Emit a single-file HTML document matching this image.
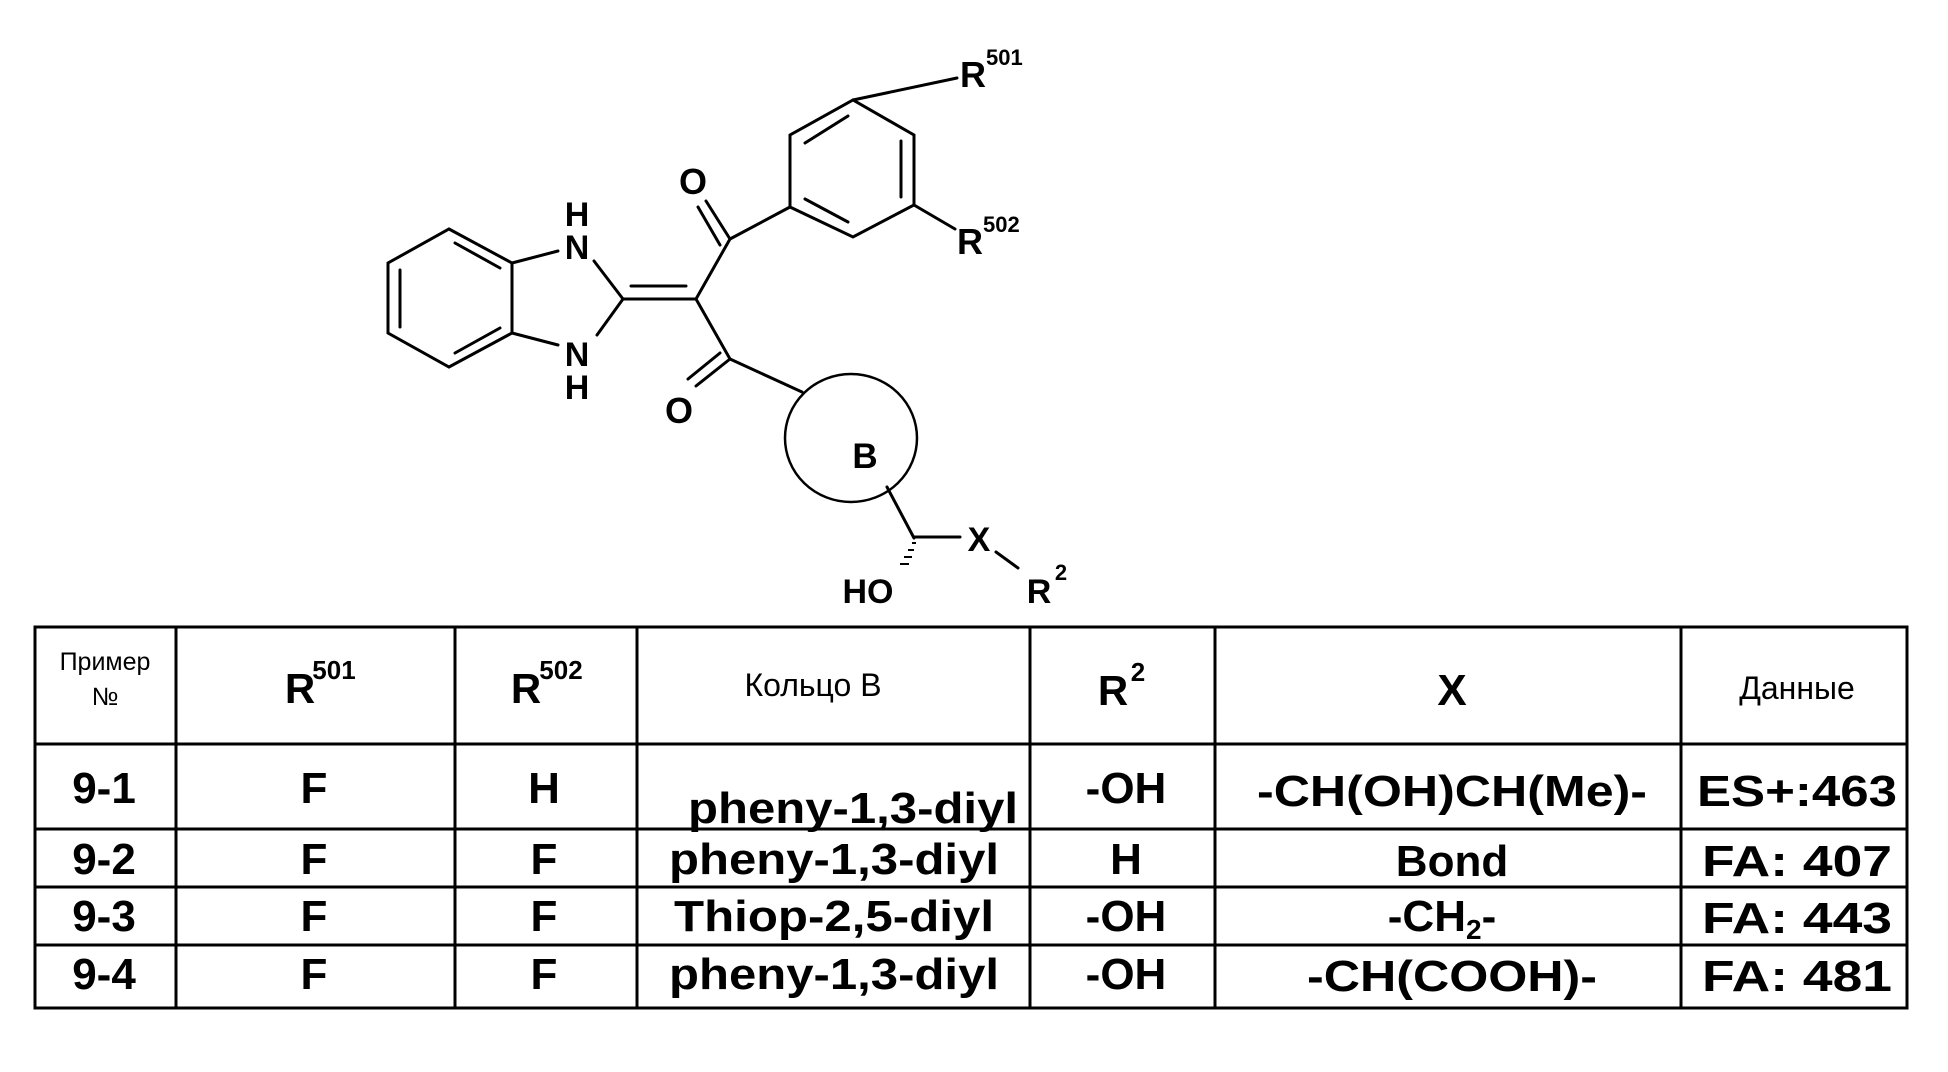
<!DOCTYPE html>
<html><head><meta charset="utf-8"><style>
html,body{margin:0;padding:0;background:#fff;}
svg{display:block;}
text{font-family:"Liberation Sans",Arial,sans-serif;fill:#000;}
.b{font-weight:bold;}
</style></head><body>
<svg width="1948" height="1072" viewBox="0 0 1948 1072" xmlns="http://www.w3.org/2000/svg">
<g stroke="#000" stroke-width="3" fill="none" stroke-linecap="round">
<polygon points="449,229 512,263 512,333 449,367 388,333 388,263"/>
<line x1="455" y1="243" x2="500" y2="268"/>
<line x1="400" y1="270" x2="400" y2="327"/>
<line x1="455" y1="353" x2="500" y2="328"/>
<line x1="512" y1="263" x2="558" y2="251"/>
<line x1="512" y1="333" x2="558" y2="345"/>
<line x1="594" y1="261" x2="623" y2="299"/>
<line x1="597" y1="335" x2="623" y2="299"/>
<line x1="623" y1="299" x2="696" y2="299"/>
<line x1="631" y1="286" x2="686" y2="286"/>
<line x1="696" y1="299" x2="730" y2="239"/>
<line x1="730" y1="239" x2="706" y2="201"/>
<line x1="720" y1="245" x2="698" y2="207"/>
<line x1="730" y1="239" x2="790" y2="207"/>
<polygon points="790,207 790,135 853,100 914,135 914,205 853,237"/>
<line x1="805" y1="143" x2="848" y2="116"/>
<line x1="901" y1="141" x2="901" y2="197"/>
<line x1="805" y1="199" x2="848" y2="222"/>
<line x1="853" y1="100" x2="957" y2="78"/>
<line x1="914" y1="205" x2="955" y2="229"/>
<line x1="696" y1="299" x2="730" y2="359"/>
<line x1="730" y1="359" x2="696" y2="386"/>
<line x1="720" y1="353" x2="688" y2="379"/>
<line x1="730" y1="359" x2="802" y2="392"/>
<ellipse cx="851" cy="438" rx="66" ry="64" stroke-width="2.5"/>
<line x1="887" y1="487" x2="914" y2="538"/>
<line x1="914" y1="537" x2="960" y2="537"/>
<line x1="996" y1="552" x2="1018" y2="568"/>
</g>
<g stroke="#000" stroke-width="2">
<line x1="912" y1="543" x2="916" y2="543"/>
<line x1="908" y1="550" x2="914" y2="550"/>
<line x1="904" y1="557" x2="912" y2="557"/>
<line x1="900" y1="564" x2="909" y2="564"/>
</g>
<g class="b" font-size="34" text-anchor="middle">
<text x="577" y="226">H</text>
<text x="577" y="259">N</text>
<text x="577" y="366">N</text>
<text x="577" y="399">H</text>
<text x="693" y="194" font-size="36">O</text>
<text x="679" y="423" font-size="36">O</text>
<text x="865" y="468" font-size="35">B</text>
<text x="979" y="551">X</text>
<text x="868" y="603">HO</text>
<text x="1039" y="603">R</text>
<text x="1061" y="580" font-size="22">2</text>
</g>
<g class="b">
<text x="960" y="87" font-size="36">R</text>
<text x="986" y="65" font-size="22">501</text>
<text x="957" y="254" font-size="36">R</text>
<text x="983" y="232" font-size="22">502</text>
</g>
<g stroke="#000" stroke-width="3" fill="none">
<rect x="35" y="627" width="1872" height="381"/>
<line x1="35" y1="744" x2="1907" y2="744"/>
<line x1="35" y1="829" x2="1907" y2="829"/>
<line x1="35" y1="887" x2="1907" y2="887"/>
<line x1="35" y1="945" x2="1907" y2="945"/>
<line x1="176" y1="627" x2="176" y2="1008"/>
<line x1="455" y1="627" x2="455" y2="1008"/>
<line x1="637" y1="627" x2="637" y2="1008"/>
<line x1="1030" y1="627" x2="1030" y2="1008"/>
<line x1="1215" y1="627" x2="1215" y2="1008"/>
<line x1="1681" y1="627" x2="1681" y2="1008"/>
</g>
<g text-anchor="middle">
<text x="105" y="670" font-size="25">Пример</text>
<text x="105" y="705" font-size="25">№</text>
<text x="300" y="703" font-size="42" class="b">R</text>
<text x="334" y="679" font-size="26" class="b">501</text>
<text x="526" y="703" font-size="42" class="b">R</text>
<text x="561" y="679" font-size="26" class="b">502</text>
<text x="813" y="696" font-size="32">Кольцо В</text>
<text x="1113" y="705" font-size="42" class="b">R</text>
<text x="1138" y="681" font-size="26" class="b">2</text>
<text x="1452" y="705" font-size="44" class="b">X</text>
<text x="1797" y="699" font-size="32">Данные</text>
</g>
<g class="b" font-size="44" text-anchor="middle">
<text x="104" y="803">9-1</text>
<text x="314" y="803">F</text>
<text x="544" y="803">H</text>
<text x="853" y="823" textLength="330" lengthAdjust="spacingAndGlyphs">pheny-1,3-diyl</text>
<text x="1126" y="803">-OH</text>
<text x="1452" y="806" textLength="390" lengthAdjust="spacingAndGlyphs">-CH(OH)CH(Me)-</text>
<text x="1797" y="806" textLength="200" lengthAdjust="spacingAndGlyphs">ES+:463</text>

<text x="104" y="874">9-2</text>
<text x="314" y="874">F</text>
<text x="544" y="874">F</text>
<text x="834" y="874" textLength="330" lengthAdjust="spacingAndGlyphs">pheny-1,3-diyl</text>
<text x="1126" y="874">H</text>
<text x="1452" y="876">Bond</text>
<text x="1797" y="876" textLength="190" lengthAdjust="spacingAndGlyphs">FA: 407</text>

<text x="104" y="931">9-3</text>
<text x="314" y="931">F</text>
<text x="544" y="931">F</text>
<text x="834" y="931" textLength="320" lengthAdjust="spacingAndGlyphs">Thiop-2,5-diyl</text>
<text x="1126" y="931">-OH</text>
<text x="1442" y="931">-CH<tspan font-size="28" dy="8">2</tspan><tspan dy="-8">-</tspan></text>
<text x="1797" y="933" textLength="190" lengthAdjust="spacingAndGlyphs">FA: 443</text>

<text x="104" y="989">9-4</text>
<text x="314" y="989">F</text>
<text x="544" y="989">F</text>
<text x="834" y="989" textLength="330" lengthAdjust="spacingAndGlyphs">pheny-1,3-diyl</text>
<text x="1126" y="989">-OH</text>
<text x="1452" y="991" textLength="290" lengthAdjust="spacingAndGlyphs">-CH(COOH)-</text>
<text x="1797" y="991" textLength="190" lengthAdjust="spacingAndGlyphs">FA: 481</text>
</g>
</svg>
</body></html>
